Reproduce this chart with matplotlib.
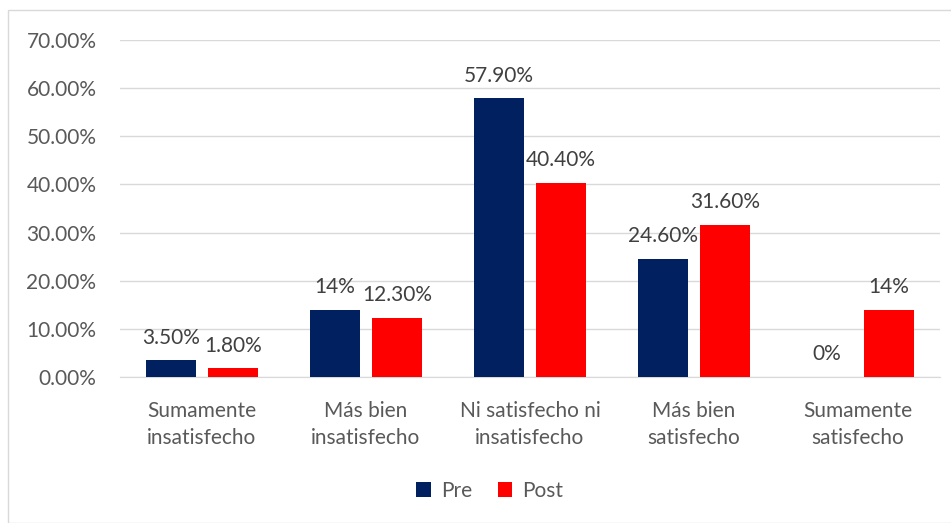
import matplotlib.pyplot as plt
import numpy as np
from matplotlib.patches import Rectangle

categories = ["Sumamente\ninsatisfecho", "Más bien\ninsatisfecho", "Ni satisfecho ni\ninsatisfecho", "Más bien\nsatisfecho", "Sumamente\nsatisfecho"]
pre = [3.5, 14.0, 57.9, 24.6, 0.0]
post = [1.8, 12.3, 40.4, 31.6, 14.0]
pre_labels = ["3.50%", "14%", "57.90%", "24.60%", "0%"]
post_labels = ["1.80%", "12.30%", "40.40%", "31.60%", "14%"]
yticks = [0, 10, 20, 30, 40, 50, 60, 70]

plt.rcParams['font.family'] = ['Lato', 'DejaVu Sans']
txt = '#595959'
fs = 15

fig = plt.figure(figsize=(9.51, 5.23), dpi=100)
fig.patches.append(Rectangle((8/951, 0), 1, 1 - 10/523, transform=fig.transFigure,
                             fill=False, edgecolor='#d9d9d9', linewidth=1))
ax = fig.add_axes([120/951, 1 - 377/523, 820/951, 337/523])
x = np.arange(len(categories))
w = 0.305
off = 0.19
b1 = ax.bar(x - off, pre, w, color='#002060', label='Pre', zorder=3)
b2 = ax.bar(x + off, post, w, color='#FF0000', label='Post', zorder=3)
for bars, labs in ((b1, pre_labels), (b2, post_labels)):
    for rect, lab in zip(bars, labs):
        ax.annotate(lab, (rect.get_x() + rect.get_width()/2, rect.get_height()),
                    xytext=(0, 9), textcoords='offset points', ha='center', va='bottom',
                    fontsize=fs, color='#404040')
ax.set_xlim(-0.5, 4.5)
ax.set_ylim(0, 70)
ax.set_yticks(yticks)
ax.set_yticklabels([f"{v:.2f}%" for v in yticks], fontsize=fs, color=txt)
ax.set_xticks(x)
ax.set_xticklabels(categories, fontsize=fs, color=txt, linespacing=1.45)
ax.tick_params(axis='both', length=0)
ax.tick_params(axis='y', pad=17)
ax.tick_params(axis='x', pad=17)
ax.grid(axis='y', color='#d9d9d9', linewidth=1, zorder=0)
for s in ['top', 'right', 'left']:
    ax.spines[s].set_visible(False)
ax.spines['bottom'].set_color('#d9d9d9')
leg = fig.legend(loc='center', bbox_to_anchor=(490/951, 1 - 491/523), ncol=2, frameon=False,
                 fontsize=fs, handlelength=0.7, handleheight=0.7, columnspacing=1.2, handletextpad=0.5)
for t in leg.get_texts():
    t.set_color(txt)
fig.savefig('out.png', dpi=100)
